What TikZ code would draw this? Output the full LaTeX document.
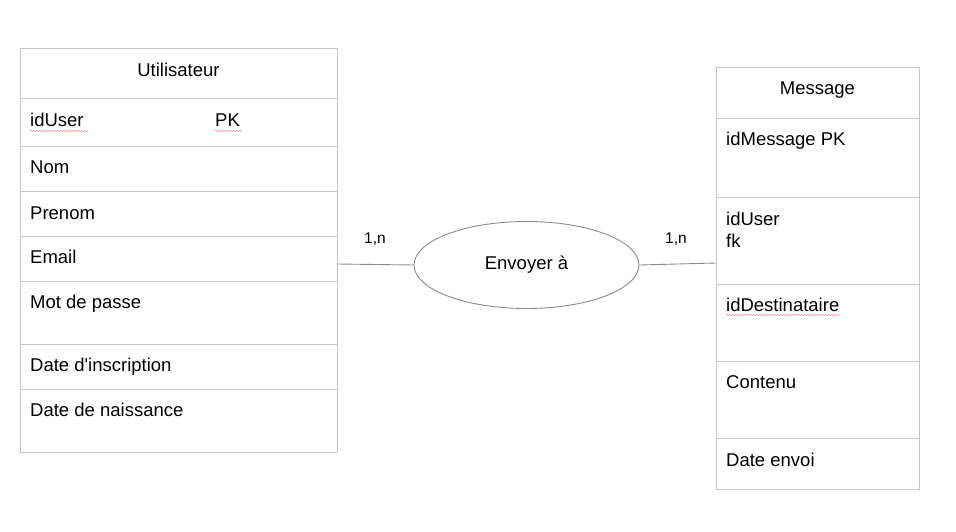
\documentclass[tikz,border=0pt]{standalone}
\usepackage{fontspec}
\setmainfont{Liberation Sans}[Ligatures=TeXOff]
\usetikzlibrary{shapes.geometric,decorations.pathmorphing}
\definecolor{boxgray}{HTML}{C8C8C8}
\definecolor{ellgray}{HTML}{8A8A8A}
\definecolor{linegray}{HTML}{8C8C8C}
\definecolor{squig}{HTML}{E8A0A0}
\tikzset{
  rowbox/.style={draw=boxgray, line width=0.9pt, inner sep=0pt, anchor=north west},
  lbl/.style={font=\fontsize{18.5}{22}\selectfont, inner sep=0pt, anchor=base west},
  hdr/.style={font=\fontsize{18.5}{22}\selectfont, inner sep=0pt, anchor=base},
  card/.style={font=\fontsize{15.5}{18}\selectfont, inner sep=0pt, anchor=base},
  conn/.style={draw=linegray, line width=0.9pt},
  squiggle/.style={draw=squig, line width=0.6pt, decorate, decoration={snake, amplitude=0.8pt, segment length=3pt}}
}
\begin{document}
\begin{tikzpicture}[x=1pt,y=-1pt]
\useasboundingbox[fill=white] (0,0) rectangle (956,532);
% Left table
\def\lw{317}
\node[rowbox, minimum width=\lw pt, minimum height=50pt] (uh) at (20,48) {};
\node[rowbox, minimum width=\lw pt, minimum height=48pt] (u1) at (20,98) {};
\node[rowbox, minimum width=\lw pt, minimum height=45pt] (u2) at (20,146) {};
\node[rowbox, minimum width=\lw pt, minimum height=45pt] (u3) at (20,191) {};
\node[rowbox, minimum width=\lw pt, minimum height=45pt] (u4) at (20,236) {};
\node[rowbox, minimum width=\lw pt, minimum height=63pt] (u5) at (20,281) {};
\node[rowbox, minimum width=\lw pt, minimum height=45pt] (u6) at (20,344) {};
\node[rowbox, minimum width=\lw pt, minimum height=63pt] (u7) at (20,389) {};
\node[hdr] (tuh) at (178.5,77) {Utilisateur};
\node[lbl] (tu1) at (30,127) {idUser};
\node[lbl] (tu1b) at (215,127) {PK};
\node[lbl] (tu2) at (30,174) {Nom};
\node[lbl] (tu3) at (30,219) {Prenom};
\node[lbl] (tu4) at (30,263) {Email};
\node[lbl] (tu5) at (30,308) {Mot de passe};
\node[lbl] (tu6) at (30,371) {Date d'inscription};
\node[lbl] (tu7) at (30,416) {Date de naissance};
% Right table
\def\rw{203}
\node[rowbox, minimum width=\rw pt, minimum height=51pt] (mh) at (716,67) {};
\node[rowbox, minimum width=\rw pt, minimum height=79pt] (m1) at (716,118) {};
\node[rowbox, minimum width=\rw pt, minimum height=87pt] (m2) at (716,197) {};
\node[rowbox, minimum width=\rw pt, minimum height=77pt] (m3) at (716,284) {};
\node[rowbox, minimum width=\rw pt, minimum height=77pt] (m4) at (716,361) {};
\node[rowbox, minimum width=\rw pt, minimum height=51pt] (m5) at (716,438) {};
\node[hdr] (tmh) at (817.5,95) {Message};
\node[lbl] (tm1) at (726,146) {idMessage PK};
\node[lbl] (tm2) at (726,225) {idUser};
\node[lbl] (tm2b) at (726,247) {fk};
\node[lbl] (tm3) at (726,311) {idDestinataire};
\node[lbl] (tm4) at (726,388) {Contenu};
\node[lbl] (tm5) at (726,466) {Date envoi};
% Relationship
\node[ellipse, draw=ellgray, line width=0.9pt, minimum width=225pt, minimum height=87pt, inner sep=0pt,
      font=\fontsize{18.5}{22}\selectfont] (rel) at (526.5,265) {Envoyer à};
\coordinate (lend) at (337,264);
\coordinate (rend) at (716,263);
\draw[conn] (lend) -- (rel.west);
\draw[conn] (rel.east) -- (rend);
\node[card] (c1) at (375,243.5) {1,n};
\node[card] (c2) at (676,243.5) {1,n};
% spell-check squiggles
\draw[squiggle] (tu1.base west) ++(0,4) -- ++(58,0);
\draw[squiggle] (tu1b.base west) ++(0,4) -- ++(27,0);
\draw[squiggle] (tm3.base west) ++(0,4) -- ++(114,0);
\end{tikzpicture}
\end{document}
